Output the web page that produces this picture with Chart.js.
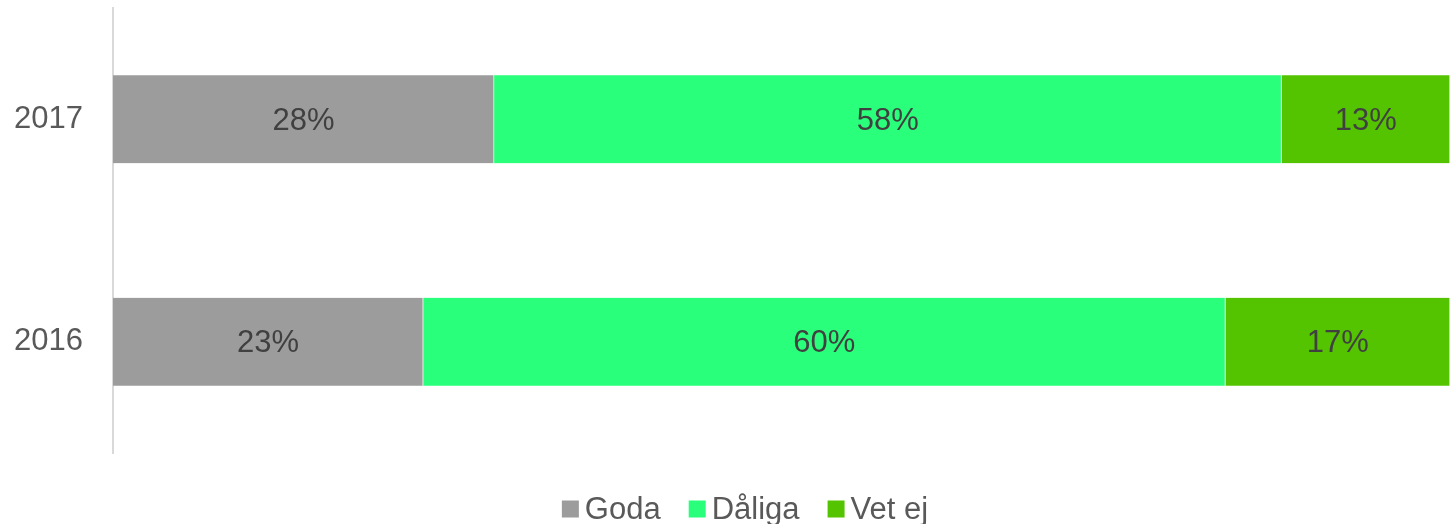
<!DOCTYPE html>
<html>
<head>
<meta charset="utf-8">
<script src="https://cdn.jsdelivr.net/npm/chart.js@4"></script>
<style>
  html, body { margin: 0; padding: 0; background: #fff; }
  #wrap { width: 1450px; height: 524px; }
</style>
</head>
<body>
<div id="wrap"><canvas id="chart"></canvas></div>
<script>
const years = ["2017", "2016"];
const goda = [28.5, 23.2];
const daliga = [58.9, 60.0];
const vetEj = [12.6, 16.8];
const shown = { Goda: [28, 23], "Dåliga": [58, 60], "Vet ej": [13, 17] };

const font = "'Liberation Sans', Arial, sans-serif";
const textGrey = "#595959";

// percent labels in the middle of each segment
const barLabels = {
  id: "barLabels",
  afterDatasetsDraw(chart) {
    const ctx = chart.ctx;
    ctx.save();
    ctx.font = "31px " + font;
    ctx.fillStyle = "#404040";
    ctx.textAlign = "center";
    ctx.textBaseline = "middle";
    chart.data.datasets.forEach((ds, i) => {
      chart.getDatasetMeta(i).data.forEach((bar, j) => {
        const cx = (bar.x + bar.base) / 2;
        ctx.fillText(shown[ds.label][j] + "%", cx, bar.y + 2);
      });
    });
    ctx.restore();
  },
};

// legend drawn by hand so the box/text spacing matches
const bottomLegend = {
  id: "bottomLegend",
  afterDraw(chart) {
    const ctx = chart.ctx;
    const box = 17, gap = 6, spacing = 28, cy = 509;
    ctx.save();
    ctx.font = "31px " + font;
    ctx.textBaseline = "middle";
    const items = chart.data.datasets.map((ds) => ({ text: ds.label, color: ds.backgroundColor, w: ctx.measureText(ds.label).width }));
    const total = items.reduce((s, it) => s + box + gap + it.w, 0) + spacing * (items.length - 1);
    let x = 745 - total / 2;
    items.forEach((it) => {
      ctx.fillStyle = it.color;
      ctx.fillRect(x, cy - box / 2, box, box);
      ctx.fillStyle = textGrey;
      ctx.fillText(it.text, x + box + gap, cy + 1);
      x += box + gap + it.w + spacing;
    });
    ctx.restore();
  },
};

new Chart(document.getElementById("chart").getContext("2d"), {
  type: "bar",
  data: {
    labels: years,
    datasets: [
      { label: "Goda", data: goda, backgroundColor: "#9c9c9c" },
      { label: "Dåliga", data: daliga, backgroundColor: "#29ff7a" },
      { label: "Vet ej", data: vetEj, backgroundColor: "#55c400" },
    ],
  },
  options: {
    indexAxis: "y",
    responsive: true,
    maintainAspectRatio: false,
    animation: false,
    datasets: {
      bar: { barThickness: 88, borderWidth: { right: 1 }, borderColor: "#e8f5e8", borderSkipped: false },
    },
    layout: { padding: { top: 8, left: 14, right: 0, bottom: 71 } },
    plugins: {
      tooltip: { enabled: false },
      legend: { display: false },
    },
    scales: {
      x: { stacked: true, display: false, min: 0, max: 100 },
      y: {
        stacked: true,
        grid: { display: false, drawTicks: false },
        border: { color: "#d9d9d9", width: 2 },
        ticks: { color: textGrey, font: { family: font, size: 31 }, padding: 30 },
        afterFit(scale) {
          scale.width = 99;
          scale.paddingTop = 0;
          scale.paddingBottom = 0;
        },
      },
    },
  },
  plugins: [barLabels, bottomLegend],
});
</script>
</body>
</html>
